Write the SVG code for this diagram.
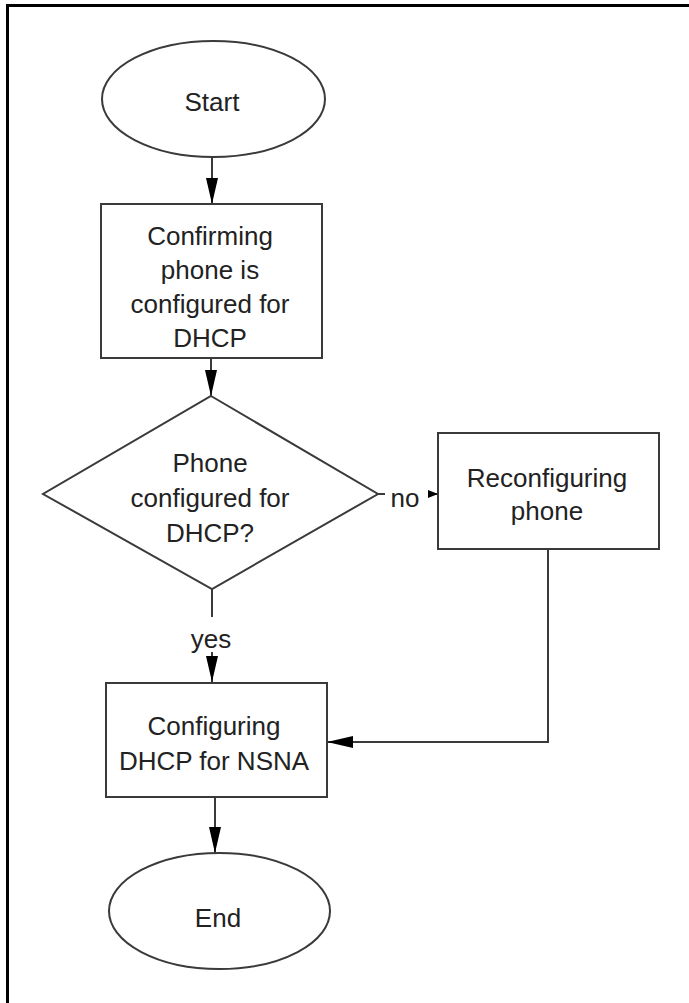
<svg xmlns="http://www.w3.org/2000/svg" width="689" height="1003" viewBox="0 0 689 1003">
  <style>
    .shape { fill: #ffffff; stroke: #3a3a3a; stroke-width: 2; }
    .conn { fill: none; stroke: #3a3a3a; stroke-width: 2; }
    .lbl { font-family: "Liberation Sans", Arial, sans-serif; font-size: 26px; fill: #222222; text-anchor: middle; }
    .frame { stroke: #000000; stroke-width: 3; fill: none; }
  </style>
  <defs>
    <marker id="arrow" markerUnits="userSpaceOnUse" markerWidth="26" markerHeight="12" refX="26" refY="6" orient="auto" viewBox="0 0 26 12">
      <path d="M0,0 L26,6 L0,12 Z" fill="#000000"/>
    </marker>
    <marker id="arrowSmall" markerUnits="userSpaceOnUse" markerWidth="10" markerHeight="8" refX="10" refY="4" orient="auto" viewBox="0 0 10 8">
      <path d="M0,0 L10,4 L0,8 Z" fill="#000000"/>
    </marker>
  </defs>

  <g id="frame">
    <line class="frame" x1="6" y1="5.5" x2="689" y2="5.5"/>
    <line class="frame" x1="7.5" y1="4" x2="7.5" y2="1003"/>
  </g>

  <g id="connectors">
    <path class="conn" d="M212,157 L212,204" marker-end="url(#arrow)"/>
    <path class="conn" d="M211,358 L211,396" marker-end="url(#arrow)"/>
    <path class="conn" d="M378,494 L385,494"/>
    <path class="conn" d="M428,494 L438,494" marker-end="url(#arrowSmall)"/>
    <path class="conn" d="M212,589 L212,617"/>
    <path class="conn" d="M212,652 L212,682" marker-end="url(#arrow)"/>
    <path class="conn" d="M548,549 L548,742 L327,742" marker-end="url(#arrow)"/>
    <path class="conn" d="M215,797 L215,853" marker-end="url(#arrow)"/>
    <text class="lbl" x="405" y="507">no</text>
    <text class="lbl" x="211" y="648">yes</text>
  </g>

  <g id="start">
    <ellipse class="shape" cx="213.5" cy="99" rx="111.5" ry="58"/>
    <text class="lbl" x="212" y="111">Start</text>
  </g>

  <g id="confirm">
    <rect class="shape" x="101" y="204" width="221" height="154"/>
    <text class="lbl" x="210" y="245">Confirming</text>
    <text class="lbl" x="210" y="279">phone is</text>
    <text class="lbl" x="210" y="313">configured for</text>
    <text class="lbl" x="210" y="347">DHCP</text>
  </g>

  <g id="decision">
    <polygon class="shape" points="211,396 378,494 212,589 43,494"/>
    <text class="lbl" x="210" y="472">Phone</text>
    <text class="lbl" x="210" y="507">configured for</text>
    <text class="lbl" x="210" y="542">DHCP?</text>
  </g>

  <g id="reconfigure">
    <rect class="shape" x="438" y="433" width="221" height="116"/>
    <text class="lbl" x="547" y="487">Reconfiguring</text>
    <text class="lbl" x="547" y="520">phone</text>
  </g>

  <g id="configure">
    <rect class="shape" x="106" y="683" width="221" height="114"/>
    <text class="lbl" x="214" y="735">Configuring</text>
    <text class="lbl" x="214" y="770">DHCP for NSNA</text>
  </g>

  <g id="end">
    <ellipse class="shape" cx="219.5" cy="911" rx="110.5" ry="58"/>
    <text class="lbl" x="218" y="927">End</text>
  </g>
</svg>
